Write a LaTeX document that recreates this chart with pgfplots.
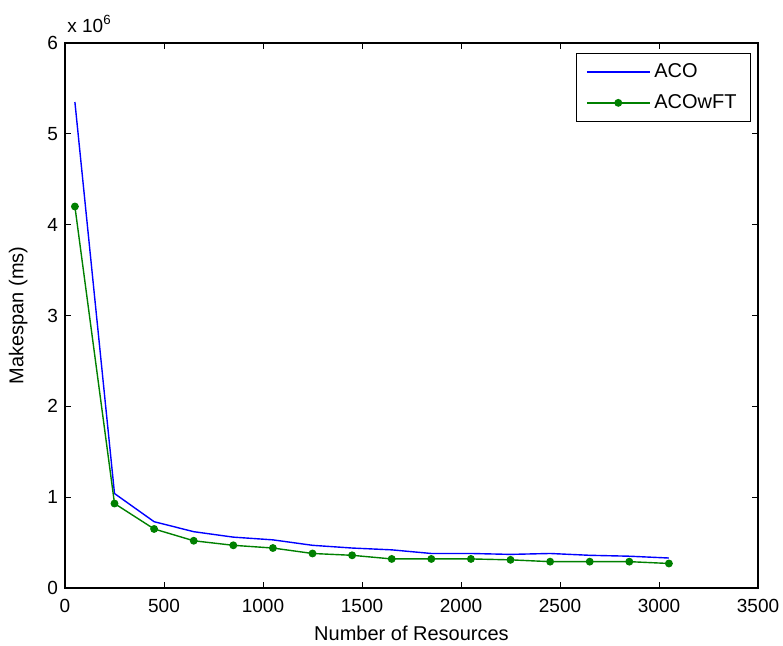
\documentclass[border=0pt]{standalone}
\usepackage{fontspec}
\setmainfont{Liberation Sans}
\usepackage{pgfplots}
\pgfplotsset{compat=1.18}
\usetikzlibrary{calc}
\definecolor{mgreen}{RGB}{0,128,0}
\begin{document}
\begin{tikzpicture}
\begin{axis}[
    name=ax,
    scale only axis,
    width=346.5pt, height=272.5pt,
    xmin=0, xmax=3500, ymin=0, ymax=6,
    xtick={0,500,...,3500},
    ytick={0,1,...,6},
    tick align=inside,
    tick pos=both,
    major tick length=3pt,
    axis line style={black, line width=0.6pt},
    tick style={black, line width=0.5pt},
    /pgf/number format/assume math mode=true,
    /pgf/number format/1000 sep={},
    ticklabel style={font=\fontsize{9.5pt}{11pt}\selectfont},
    xticklabel style={yshift=-2pt},
    xlabel={Number of Resources},
    ylabel={Makespan (ms)},
    label style={font=\fontsize{10pt}{12pt}\selectfont},
    xlabel style={yshift=0pt},
    ylabel style={yshift=3pt},
    legend style={at={(0.99,0.982)}, anchor=north east, draw=black, line width=0.6pt,
        font=\fontsize{10pt}{12pt}\selectfont, inner xsep=5pt, inner ysep=3pt,
        row sep=3pt},
    legend cell align=left,
    legend image code/.code={\draw[mark repeat=2,mark phase=2] plot coordinates {(0cm,0cm) (0.55cm,0cm) (1.1cm,0cm)};},
    clip=false,
]
\addplot[blue, line width=0.7pt] coordinates {
    (50,5.35) (250,1.04) (450,0.73) (650,0.62) (850,0.56) (1050,0.53)
    (1250,0.47) (1450,0.44) (1650,0.42) (1850,0.38) (2050,0.38) (2250,0.37)
    (2450,0.38) (2650,0.36) (2850,0.35) (3050,0.33)
};
\addlegendentry{ACO}
\addplot[mgreen, line width=0.7pt, mark=*, mark size=1.6pt, mark options={fill=mgreen}] coordinates {
    (50,4.2) (250,0.93) (450,0.65) (650,0.52) (850,0.47) (1050,0.44)
    (1250,0.38) (1450,0.36) (1650,0.32) (1850,0.32) (2050,0.32) (2250,0.31)
    (2450,0.29) (2650,0.29) (2850,0.29) (3050,0.27)
};
\addlegendentry{ACOwFT}
\node[anchor=south west, inner sep=0pt, font=\fontsize{9.5pt}{11pt}\selectfont] at ($(rel axis cs:0,1)+(1pt,5pt)$) {x 10\textsuperscript{6}};
\end{axis}
\pgfresetboundingbox
\path ($(ax.south west)+(-32.5pt,-28.5pt)$) rectangle ($(ax.north east)+(12.5pt,21.5pt)$);
\end{tikzpicture}
\end{document}
